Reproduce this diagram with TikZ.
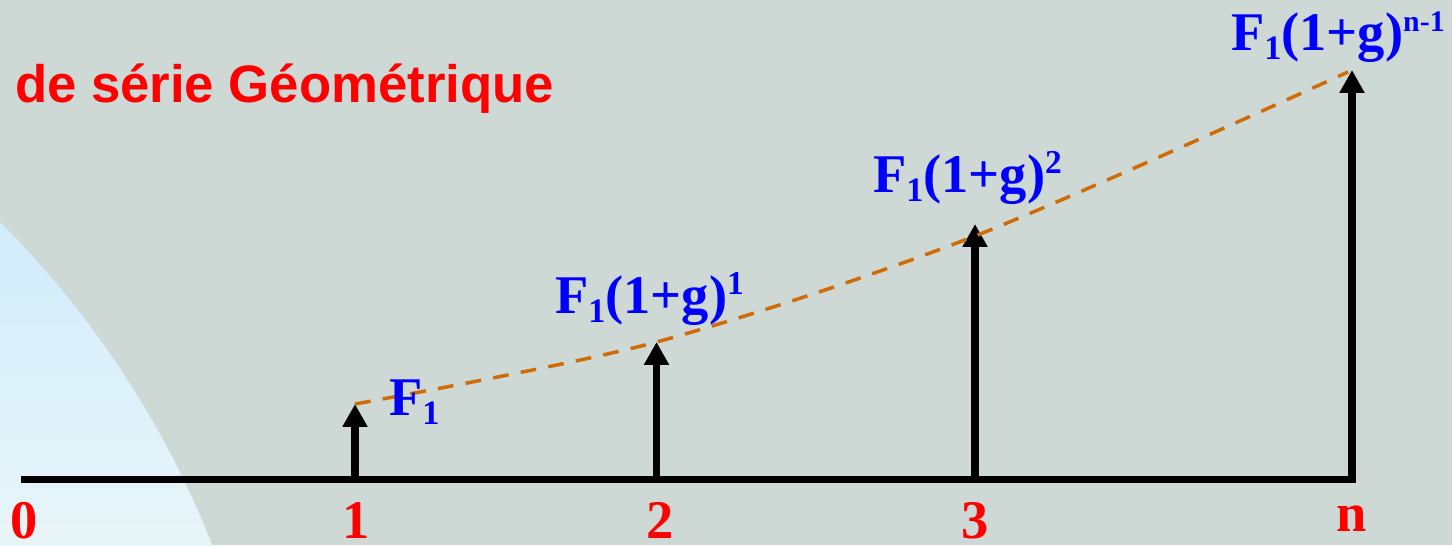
\documentclass[tikz,border=0pt]{standalone}
\usepackage{fontspec}
\setmainfont{Liberation Serif}
\newfontfamily\headfont{Liberation Sans}
\usepackage{xcolor}
\usepackage{tikz}
\usetikzlibrary{arrows.meta}
\definecolor{SlideGray}{RGB}{206,216,213}
\definecolor{SkyTop}{RGB}{208,236,252}
\definecolor{SkyBot}{RGB}{232,245,248}
\definecolor{TrendOrange}{RGB}{208,108,8}
\newcommand\lowtxt[1]{\raisebox{-5.5pt}{\fontsize{19.5}{19.5}\selectfont #1}}
\newcommand\hightxt[2][19]{\raisebox{10.5pt}{\fontsize{#1}{#1}\selectfont #2}}

\begin{document}
\begin{tikzpicture}[
  x=0.02cm, y=-0.02cm,
  every node/.style={inner sep=0pt, outer sep=0pt},
  tick/.style={text=red, font=\fontsize{31}{31}\selectfont\bfseries, anchor=base},
  flowlbl/.style={text=blue, font=\fontsize{31}{31}\selectfont\bfseries, anchor=base west},
  flow/.style={line width=4.5pt, -{Triangle[width=13.5pt,length=13pt]}},
  axis/.style={line width=3.8pt},
  trend/.style={draw=TrendOrange, line width=2pt, dash pattern=on 9pt off 7pt}
]
\useasboundingbox (0,0) rectangle (1452,545);
\fill[SlideGray] (0,0) rectangle (1452,545);
\begin{scope}
  \clip (-669,892) circle [radius=18.94cm];
  \shade[top color=SkyTop, bottom color=SkyBot] (0,200) rectangle (260,545);
\end{scope}

\node[text=red, anchor=base west, font=\headfont\fontsize{30}{30}\selectfont\bfseries] (title) at (15,102) {de série Géométrique};

% time line
\coordinate (b0) at (21,479.5);
\coordinate (b1) at (355,479.5);
\coordinate (b2) at (656.5,479.5);
\coordinate (b3) at (975,479.5);
\coordinate (bn) at (1352,479.5);
\draw[axis] (b0) -- ([xshift=2.2pt]bn);

\node[tick] (t0) at (24,538) {0};
\node[tick] (t1) at (356,538) {1};
\node[tick] (t2) at (660,538) {2};
\node[tick] (t3) at (975,538) {3};
\node[tick] (tn) at (1352,531) {n};

% cash flows
\coordinate (p1) at (355,404);
\coordinate (p2) at (656.5,342);
\coordinate (p3) at (975,224);
\coordinate (pn) at (1352,70);
\draw[flow] (b1) -- (p1);
\draw[flow] (b2) -- (p2);
\draw[flow] (b3) -- (p3);
\draw[flow] (bn) -- (pn);

\coordinate (c3) at (975,236);
\coordinate (cn) at (1348,72);
\draw[trend] plot[smooth] coordinates {(p1) (p2) (c3) (cn)};

\node[flowlbl] (f1) at (389,415) {F\lowtxt{1}};
\node[flowlbl] (f2) at (555,313) {F\lowtxt{1}(1+g)\hightxt{1}};
\node[flowlbl] (f3) at (873,192) {F\lowtxt{1}(1+g)\hightxt{2}};
\node[flowlbl] (fn) at (1231,50) {F\lowtxt{1}(1+g)\hightxt[17]{n-1}};
\end{tikzpicture}
\end{document}
